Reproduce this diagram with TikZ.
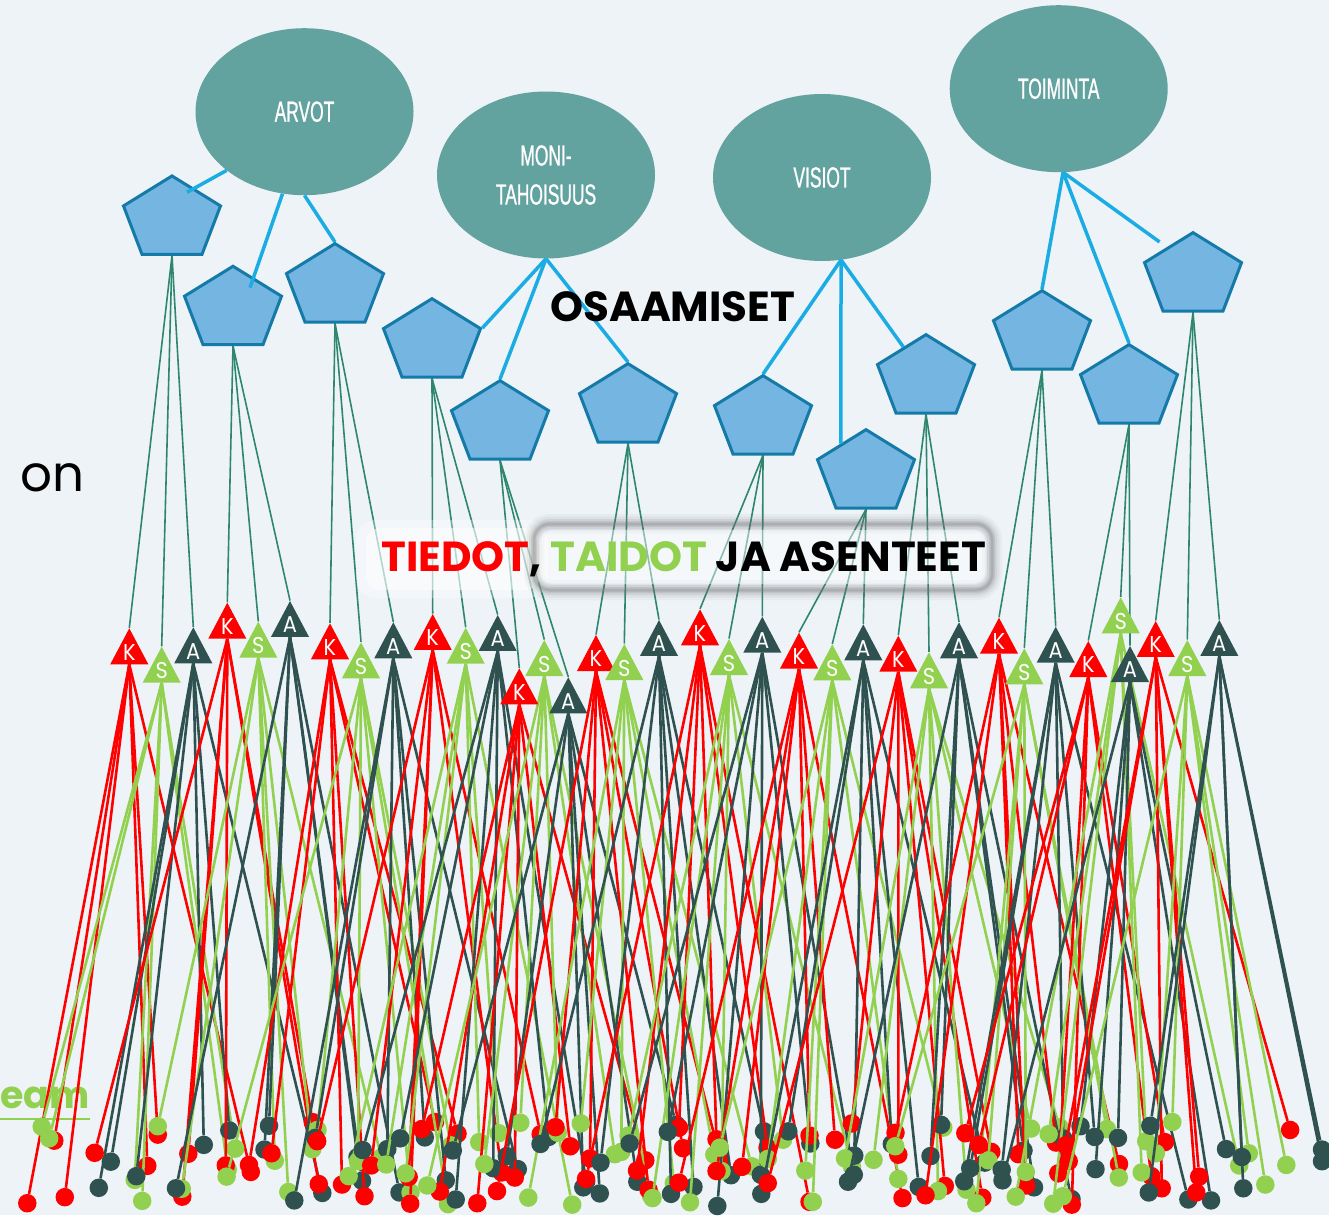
\documentclass[tikz,border=0pt]{standalone}
\usepackage{fontspec}
\setmainfont{Poppins}
\newfontfamily\ellfont[FakeStretch=0.6,FakeBold=0.8]{Liberation Sans}
\usetikzlibrary{shapes.geometric,calc}

\definecolor{bgcol}{RGB}{238,243,248}
\definecolor{ellfill}{RGB}{99,163,159}
\definecolor{pentfill}{RGB}{117,181,226}
\definecolor{pentdraw}{RGB}{20,122,168}
\definecolor{spokecol}{RGB}{27,172,228}
\definecolor{stemcol}{RGB}{46,135,108}
\definecolor{kred}{RGB}{255,0,0}
\definecolor{sgreen}{RGB}{146,208,80}
\definecolor{adark}{RGB}{47,82,81}

\pgfdeclarelayer{bg}
\pgfdeclarelayer{wires}
\pgfsetlayers{bg,wires,main}

\tikzset{
  theme/.style={ellipse, fill=ellfill, minimum width=218pt, minimum height=167pt,
    inner sep=0pt, text=white, align=center, font=\ellfont\fontsize{29}{39}\selectfont},
  pent/.style={regular polygon, regular polygon sides=5, minimum size=102pt,
    inner sep=0pt, fill=pentfill, draw=pentdraw, line width=3pt, yscale=0.85, transform shape},
  spoke/.style={spokecol, line width=3.5pt},
  stem/.style={stemcol, line width=1.6pt},
  tri/.style={regular polygon, regular polygon sides=3, minimum size=44pt, inner sep=0pt,
    text=white, font=\fontsize{21}{21}\selectfont, yscale=1.09, transform shape},
  K tri/.style={tri, fill=kred},
  S tri/.style={tri, fill=sgreen},
  A tri/.style={tri, fill=adark},
  K wire/.style={kred, line width=2.6pt},
  S wire/.style={sgreen, line width=2.6pt},
  A wire/.style={adark, line width=2.6pt},
  K dot/.style={circle, fill=kred, inner sep=0pt, minimum size=18.5pt},
  S dot/.style={circle, fill=sgreen, inner sep=0pt, minimum size=18.5pt},
  A dot/.style={circle, fill=adark, inner sep=0pt, minimum size=18.5pt},
  heading/.style={inner sep=0pt, anchor=base west, font=\bfseries\fontsize{42}{42}\selectfont},
}

\begin{document}
\begin{tikzpicture}[x=1pt,y=-1pt]
\useasboundingbox (0,0) rectangle (1329,1215);
\begin{pgfonlayer}{bg}
\fill[bgcol] (0,0) rectangle (1329,1215);
\node[inner sep=0pt, anchor=base west, text=sgreen, font=\bfseries\fontsize{38}{38}\selectfont] (team) at (0,1108) {eam};
\draw[sgreen, line width=2.5pt] ([yshift=-11pt]team.base west) -- ([yshift=-11pt]team.base east);
\end{pgfonlayer}

\node[theme] (arvot) at (304.5,111.7) {ARVOT};
\node[theme] (moni) at (546,175) {MONI-\\TAHOISUUS};
\node[theme] (visiot) at (822,177.5) {VISIOT};
\node[theme] (toiminta) at (1058.7,88.7) {TOIMINTA};

\foreach \n/\x/\y in {p1/172/219.3, p2/233/309.6, p3/335/287, p4/432/342,
    p5/500/424, p6/628/407, p7/763/419, p8/866/473,
    p9/926/378, p10/1042/334, p11/1129/388, p12/1193/276}
  \node[pent] (\n) at (\x,\y) {};

\draw[spoke] (arvot.217) -- ($(p1.center)+(15,-27)$);
\draw[spoke] (arvot.255) -- ($(p2.center)+(17,-22)$);
\draw[spoke] (arvot.270) -- (p3.corner 1);
\draw[spoke] (moni.south) -- (p4.corner 5);
\draw[spoke] (moni.south) -- (p5.corner 1);
\draw[spoke] (moni.south) -- (p6.corner 1);
\draw[spoke] (visiot.283) -- (p7.corner 1);
\draw[spoke] (visiot.283) -- ($(p8.corner 1)!0.5!(p8.corner 2)$);
\draw[spoke] (visiot.283) -- ($(p9.corner 1)!0.45!(p9.corner 2)$);
\draw[spoke] (toiminta.273) -- (p10.corner 1);
\draw[spoke] (toiminta.273) -- (p11.corner 1);
\draw[spoke, shorten >=9pt] (toiminta.273) -- ($(p12.corner 1)!0.52!(p12.corner 2)$);

\foreach \n/\x/\y/\L in {k1/129.3/628.3/K, s1/161.7/646.7/S, a1/193.3/627.3/A,
    k2/227.3/602.7/K, s2/258.3/621.7/S, a2/290/601/A,
    k3/330/623.3/K, s3/361/642.3/S, a3/393.3/622.3/A,
    k4/432.7/614/K, s4/465.7/627.7/S, a4/497.7/615/A,
    k5/519.3/668.3/K, s5/544.3/640/S, a5/568.3/677.3/A,
    k6/596/635/K, s6/624.3/644/S, a6/659/620/A,
    k7/700/609.3/K, s7/729/639/S, a7/762.3/616.7/A,
    k8/799/632.7/K, s8/832.3/644.3/S, a8/863.3/624.3/A,
    k9/898.3/635.7/K, s9/929/652.3/S, a9/959/622.3/A,
    k10/999/617.7/K, s10/1024.3/648.3/S, a10/1055.7/626.7/A,
    k11/1088.3/641/K, s11/1120.7/597.3/S, a11/1130/646/A,
    k12/1155.7/621/K, s12/1187.3/640/S, a12/1219.3/620/A}
  \node[\L\space tri] (\n) at (\x,\y+24) {\raisebox{-2pt}{\L}};

\begin{pgfonlayer}{wires}
\foreach \i in {1,...,12}
  \foreach \t in {k,s,a}
    \draw[stem] (p\i.south) -- (\t\i.corner 1);
\foreach \n/\x/\L [count=\i] in {k1/129.3/K, s1/161.7/S, a1/193.3/A,
    k2/227.3/K, s2/258.3/S, a2/290/A, k3/330/K, s3/361/S, a3/393.3/A,
    k4/432.7/K, s4/465.7/S, a4/497.7/A, k5/519.3/K, s5/544.3/S, a5/568.3/A,
    k6/596/K, s6/624.3/S, a6/659/A, k7/700/K, s7/729/S, a7/762.3/A,
    k8/799/K, s8/832.3/S, a8/863.3/A, k9/898.3/K, s9/929/S, a9/959/A,
    k10/999/K, s10/1024.3/S, a10/1055.7/A, k11/1088.3/K, s11/1120.7/S, a11/1130/A,
    k12/1155.7/K, s12/1187.3/S, a12/1219.3/A}
  \foreach \j in {1,...,6} {
    \pgfmathsetmacro\dx{max(24,min(1322,\x+135*asin(sin(\i*397+\j*211))/90))}
    \pgfmathsetmacro\dy{1122+84*(0.5+asin(sin(\i*151+\j*293))/180)}
    \node[\L\space dot] (\n-\j) at (\dx,\dy) {};
    \draw[\L\space wire] (\n.south) -- (\n-\j);
  }
\end{pgfonlayer}

\node[inner sep=0pt, anchor=base west, font=\fontsize{50}{50}\selectfont] (on) at (20,491.7) {on};
\node[heading] (osaamiset) at (550,321.7) {OSAAMISET};

\fill[white, opacity=0.3, rounded corners=20pt] (356,520) rectangle (548,598);
\fill[white, opacity=0.5, rounded corners=14pt] (366,528) rectangle (540,590);
\foreach \w/\o in {20/0.06, 15/0.08, 10/0.12, 6/0.17, 3/0.24}
  \draw[black!55, line width=\w pt, opacity=\o, rounded corners=16pt] (534,524) rectangle (992,590);
\fill[white, opacity=0.45, rounded corners=12pt] (540,530) rectangle (986,584);
\node[heading] (tiedot) at (381,571.7) {\textcolor{kred}{TIEDOT}, \textcolor{sgreen}{TAIDOT} JA ASENTEET};
\end{tikzpicture}
\end{document}
